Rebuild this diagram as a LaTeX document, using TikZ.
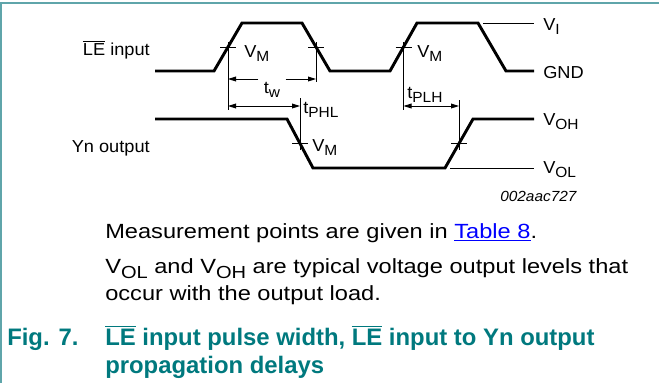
\documentclass[tikz,border=0pt]{standalone}
\usepackage{fontspec}
\setmainfont{Liberation Sans}
\newfontfamily\lblfont{Liberation Sans}[FakeStretch=1.05]
\newfontfamily\txtfont{Liberation Sans}[FakeStretch=1.15]
\usetikzlibrary{arrows.meta}
\definecolor{framecol}{HTML}{5FA5AA}
\definecolor{capcol}{HTML}{00797E}
\definecolor{linkcol}{HTML}{0000FF}
\newcommand{\sbs}[1]{\raisebox{-.25em}{\scalebox{.85}{#1}}}
\newcommand{\ovl}[1]{$\overline{\mbox{#1}}$}

\begin{document}
\begin{tikzpicture}[x=0.75pt, y=-0.75pt,
    wave/.style={line width=2.2pt},
    guide/.style={line width=0.7pt},
    dimline/.style={guide, {Triangle[length=6pt, width=3.6pt]}-{Triangle[length=6pt, width=3.6pt]}},
    halfdim/.style={guide, -{Triangle[length=6pt, width=3.6pt]}},
    lbl/.style={font=\lblfont\fontsize{13}{15}\selectfont, inner sep=0pt},
    body/.style={font=\txtfont\fontsize{15.4}{20}\selectfont, inner sep=0pt},
    captxt/.style={font=\bfseries\fontsize{17.9}{21}\selectfont, text=capcol, inner sep=0pt}]
    \useasboundingbox (0,0) rectangle (659,383);
    \draw [framecol, line width=1.1pt] (0,3) -- (659,3);
    \draw [framecol, line width=1.1pt] (1,3) -- (1,383);

    \draw [wave] (155,71) -- (214,71) -- (242,23) -- (302,23) -- (330,71) -- (390,71) -- (417,23) -- (478,23) -- (506,71) -- (534,71);
    \draw [wave] (155,119) -- (287,119) -- (313,168) -- (445,168) -- (473,119) -- (534,119);
    \draw [guide] (483,23) -- (534,23);
    \draw [guide] (450,168) -- (534,168);

    \coordinate (m1) at (228,47);
    \coordinate (m2) at (316,47);
    \coordinate (m3) at (300,143.5);
    \coordinate (m4) at (403.5,47);
    \coordinate (m5) at (459,143.5);
    \foreach \m in {m1,m2,m3,m4,m5}
        \draw [guide] (\m) +(-8,0) -- +(8,0);
    \draw [guide] (m1) +(0,-5) -- +(0,63);
    \draw [guide] (m2) +(0,-5) -- +(0,35);
    \draw [guide] (m3) +(0,-45.5) -- +(0,6.5);
    \draw [guide] (m4) +(0,-5) -- +(0,63);
    \draw [guide] (m5) +(0,-43.5) -- +(0,6.5);

    \node [lbl, anchor=base east] (lein) at (150,55) {\ovl{LE} input};
    \node [lbl, anchor=base east] (ynout) at (150,152) {Yn output};
    \node [lbl, anchor=base west] (vm1) at (244,57) {V\sbs{M}};
    \node [lbl, anchor=base west] (vm2) at (417,57) {V\sbs{M}};
    \node [lbl, anchor=base west] (vm3) at (312,151) {V\sbs{M}};
    \node [lbl, anchor=base west] (vi) at (543,30) {V\sbs{I}};
    \node [lbl, anchor=base west] (gnd) at (543,78) {GND};
    \node [lbl, anchor=base west] (voh) at (543,125) {V\sbs{OH}};
    \node [lbl, anchor=base west] (vol) at (543,173) {V\sbs{OL}};

    \coordinate (twa) at (228,79);
    \coordinate (twb) at (316,79);
    \node [lbl, inner xsep=4pt, anchor=base] (tw) at (272,93) {t\sbs{w}};
    \draw [halfdim] (tw.west |- twa) -- (twa);
    \draw [halfdim] (tw.east |- twb) -- (twb);

    \coordinate (tpa) at (228,106);
    \coordinate (tpb) at (300,106);
    \draw [dimline] (tpa) -- (tpb);
    \node [lbl, anchor=base west] (tphl) at (303,113) {t\sbs{PHL}};

    \coordinate (tla) at (403.5,106);
    \coordinate (tlb) at (459,106);
    \draw [dimline] (tla) -- (tlb);
    \node [lbl, anchor=base west] (tplh) at (407,98) {t\sbs{PLH}};

    \node [lbl, font=\lblfont\itshape\fontsize{11}{13}\selectfont, anchor=base west] (figid) at (500,201) {002aac727};

    \node [body, anchor=base west] (meas) at (105,238) {Measurement points are given in \textcolor{linkcol}{\underline{Table 8}}.};
    \node [body, anchor=base west] (note1) at (105,273) {V\sbs{OL} and V\sbs{OH} are typical voltage output levels that};
    \node [body, anchor=base west] (note2) at (105,300) {occur with the output load.};

    \node [captxt, anchor=base west] (fignum) at (7,345) {Fig. 7.};
    \node [captxt, anchor=base west] (cap1) at (105,345) {\ovl{LE} input pulse width, \ovl{LE} input to Yn output};
    \node [captxt, anchor=base west] (cap2) at (105,373) {propagation delays};
\end{tikzpicture}
\end{document}
